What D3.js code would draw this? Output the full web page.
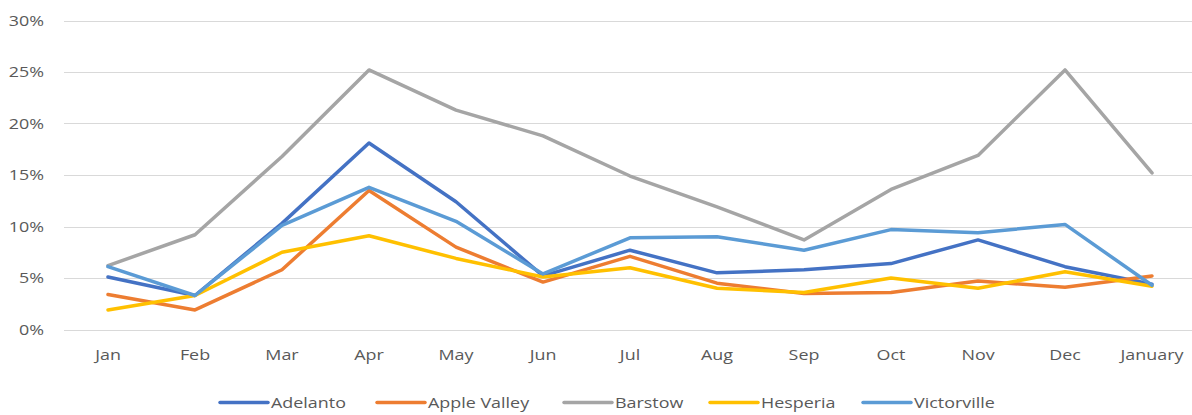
<!DOCTYPE html>
<html><head><meta charset="utf-8">
<script src="https://cdn.jsdelivr.net/npm/d3@7"></script>
<style>body{margin:0;background:#fff}text{font-family:"Open Sans",sans-serif;fill:#595959}</style>
</head><body><svg id="c" width="1192" height="415"></svg>
<script>
const months = ["Jan","Feb","Mar","Apr","May","Jun","Jul","Aug","Sep","Oct","Nov","Dec","January"];
const yTicks = [0,0.05,0.10,0.15,0.20,0.25,0.30];
const seriesNames = ["Adelanto","Apple Valley","Barstow","Hesperia","Victorville"];
const seriesColors = ["#4472C4","#ED7D31","#A5A5A5","#FFC000","#5B9BD5"];
const adelanto    = [5.1,3.3,10.3,18.1,12.4,5.2,7.7,5.5,5.8,6.4,8.7,6.1,4.4];
const appleValley = [3.4,1.9,5.8,13.5,8.0,4.6,7.1,4.5,3.5,3.6,4.7,4.1,5.2];
const barstow     = [6.2,9.2,16.8,25.2,21.3,18.8,14.9,11.9,8.7,13.6,16.9,25.2,15.2];
const hesperia    = [1.9,3.3,7.5,9.1,6.9,5.1,6.0,4.0,3.6,5.0,4.0,5.6,4.2];
const victorville = [6.1,3.3,10.1,13.8,10.5,5.4,8.9,9.0,7.7,9.7,9.4,10.2,4.3];
const seriesData = [adelanto, appleValley, barstow, hesperia, victorville];

const SX = 1.28; // horizontal text stretch seen in reference
const svg = d3.select("#c");
const x = d3.scaleBand().domain(months).range([64.5, 1195.5]);
const y = d3.scaleLinear().domain([0,0.30]).range([329.5, 20.5]);

svg.append("g").selectAll("line").data(yTicks).join("line")
  .attr("x1",64).attr("x2",1192)
  .attr("y1",d=>Math.round(y(d))+0.5).attr("y2",d=>Math.round(y(d))+0.5)
  .attr("stroke","#d9d9d9").attr("stroke-width",1);

svg.append("g").selectAll("text").data(yTicks).join("text")
  .attr("transform",d=>`translate(44,${y(d)+5}) scale(${SX},1)`).attr("text-anchor","end")
  .attr("font-size","14px").text(d3.format(".0%"));

svg.append("g").selectAll("text").data(months).join("text")
  .attr("transform",d=>`translate(${x(d)+x.bandwidth()/2},360) scale(${SX},1)`).attr("text-anchor","middle")
  .attr("font-size","14px").text(d=>d);

const line = d3.line().x((d,i)=>x(months[i])+x.bandwidth()/2).y(d=>y(d/100));
seriesData.forEach((s,k)=>{
  svg.append("path").datum(s).attr("d",line).attr("fill","none")
    .attr("stroke",seriesColors[k]).attr("stroke-width",3.5)
    .attr("stroke-linejoin","round").attr("stroke-linecap","round");
});

const legX = [220,377,564,710,863];
const lg = svg.append("g");
seriesNames.forEach((n,k)=>{
  lg.append("line").attr("x1",legX[k]).attr("x2",legX[k]+48).attr("y1",402.5).attr("y2",402.5)
    .attr("stroke",seriesColors[k]).attr("stroke-width",3.5).attr("stroke-linecap","round");
  lg.append("text").attr("transform",`translate(${legX[k]+51},408) scale(${SX},1)`)
    .attr("font-size","14px").text(n);
});
</script></body></html>
